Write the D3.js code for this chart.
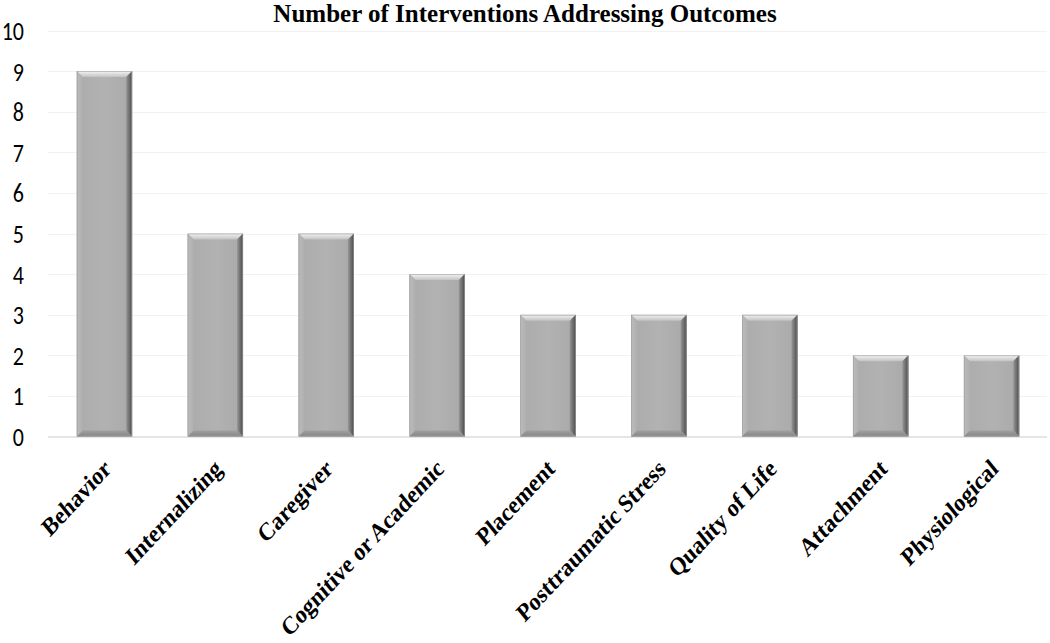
<!DOCTYPE html>
<html><head><meta charset="utf-8">
<script src="https://cdn.jsdelivr.net/npm/d3@7"></script>
<style>body{margin:0;background:#fff}svg{display:block}</style>
</head><body>
<svg id="c" width="1050" height="643"></svg>
<script>
const categories = ["Behavior","Internalizing","Caregiver","Cognitive or Academic","Placement","Posttraumatic Stress","Quality of Life","Attachment","Physiological"];
const values = [9,5,5,4,3,3,3,2,2];
const yTicks = [0,1,2,3,4,5,6,7,8,9,10];
const title = "Number of Interventions Addressing Outcomes";

const svg = d3.select("#c");
const x = d3.scaleBand().domain(categories).range([49, 1047]).paddingInner(0.5).paddingOuter(0.25);
const y = d3.scaleLinear().domain([0, 10]).range([436.5, 30.5]);

const defs = svg.append("defs");
const g1 = defs.append("linearGradient").attr("id","face").attr("x1",0).attr("x2",1).attr("y1",0).attr("y2",0);
g1.append("stop").attr("offset","0").attr("stop-color","#ababab");
g1.append("stop").attr("offset","0.5").attr("stop-color","#b2b2b2");
g1.append("stop").attr("offset","1").attr("stop-color","#a9a9a9");
const gt = defs.append("linearGradient").attr("id","topb").attr("x1",0).attr("x2",0).attr("y1",0).attr("y2",1);
gt.append("stop").attr("offset","0").attr("stop-color","#f4f4f4");
gt.append("stop").attr("offset","1").attr("stop-color","#c2c2c2");
const gr = defs.append("linearGradient").attr("id","rightb").attr("x1",0).attr("x2",1).attr("y1",0).attr("y2",0);
gr.append("stop").attr("offset","0").attr("stop-color","#969696");
gr.append("stop").attr("offset","1").attr("stop-color","#4a4a4a");
const gl = defs.append("linearGradient").attr("id","leftb").attr("x1",0).attr("x2",1).attr("y1",0).attr("y2",0);
gl.append("stop").attr("offset","0").attr("stop-color","#bcbcbc");
gl.append("stop").attr("offset","1").attr("stop-color","#afafaf");
const gb = defs.append("linearGradient").attr("id","botb").attr("x1",0).attr("x2",0).attr("y1",0).attr("y2",1);
gb.append("stop").attr("offset","0").attr("stop-color","#a0a0a0");
gb.append("stop").attr("offset","1").attr("stop-color","#858585");

// gridlines
svg.append("g").selectAll("line").data(yTicks.filter(d=>d>0)).join("line")
  .attr("x1", 48).attr("x2", 1047)
  .attr("y1", d=>Math.round(y(d))+0.5).attr("y2", d=>Math.round(y(d))+0.5)
  .attr("stroke","#f2f2f2").attr("stroke-width",1);
svg.append("line").attr("x1",48).attr("x2",1047).attr("y1",y(0)+0.5).attr("y2",y(0)+0.5)
  .attr("stroke","#dcdcdc").attr("stroke-width",1.5);

// y axis labels
const yAxis = d3.axisLeft(y).tickValues(yTicks).tickSize(0).tickPadding(0);
const ya = svg.append("g").attr("transform","translate(24,0)").call(yAxis);
ya.select(".domain").remove();
ya.selectAll(".tick text").attr("font-family","Carlito, Lato, 'Open Sans', sans-serif")
  .attr("font-size",22).attr("fill","#000").attr("dy","0.36em").attr("x",0)
  .attr("transform","scale(1,1.2)").attr("y",0);
ya.selectAll(".tick").attr("transform", d=>`translate(0,${y(d)})`);

// bars
const bv = 6;
const bars = svg.append("g").selectAll("g").data(categories).join("g");
bars.each(function(c,i){
  const g = d3.select(this);
  const x0 = x(c), w = x.bandwidth(), y0 = y(values[i]), y1 = y(0);
  g.append("rect").attr("x",x0).attr("y",y0).attr("width",w).attr("height",y1-y0).attr("fill","url(#face)");
  g.append("polygon").attr("points",[[x0,y0],[x0+w,y0],[x0+w-bv,y0+bv],[x0+bv,y0+bv]].join(" ")).attr("fill","url(#topb)");
  g.append("polygon").attr("points",[[x0,y0],[x0+bv,y0+bv],[x0+bv,y1-bv],[x0,y1]].join(" ")).attr("fill","url(#leftb)");
  g.append("polygon").attr("points",[[x0+w,y0],[x0+w,y1],[x0+w-bv,y1-bv],[x0+w-bv,y0+bv]].join(" ")).attr("fill","url(#rightb)");
  g.append("polygon").attr("points",[[x0,y1],[x0+bv,y1-bv],[x0+w-bv,y1-bv],[x0+w,y1]].join(" ")).attr("fill","url(#botb)");
  g.append("rect").attr("x",x0+0.5).attr("y",y0+0.5).attr("width",w-1).attr("height",y1-y0-1)
    .attr("fill","none").attr("stroke","#9e9e9e").attr("stroke-width",0.6);
});

// x labels
const xAxis = d3.axisBottom(x).tickSize(0).tickPadding(0);
const xa = svg.append("g").attr("transform",`translate(0,${y(0)})`).call(xAxis);
xa.select(".domain").remove();
xa.selectAll("text")
  .attr("font-family","'Liberation Serif','Times New Roman',serif")
  .attr("font-weight","bold").attr("font-size",22).attr("fill","#000")
  .attr("text-anchor","end").attr("dy",0).attr("y",0)
  .attr("transform","translate(8,34) scale(1,1.15) rotate(-43)");

// title
svg.append("text").attr("x",525).attr("y",22).attr("text-anchor","middle")
  .attr("font-family","'Liberation Serif','Times New Roman',serif").attr("font-weight","bold")
  .attr("font-size",25).text(title);
</script>
</body></html>
